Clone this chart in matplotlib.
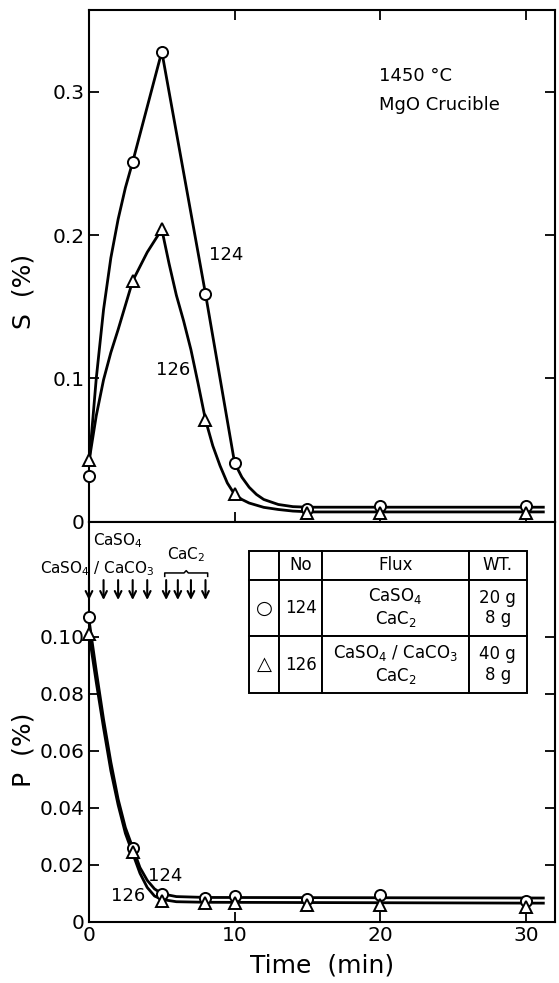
#!/usr/bin/env python3

import numpy as np
from matplotlib import pyplot as plt

plt.rcParams['font.family'] = ['DejaVu Sans']
plt.rcParams['mathtext.fontset'] = 'dejavusans'

# measured points, S (%)
t_pts = [0, 3, 5, 8, 10, 15, 20, 30]
s_124 = [0.032, 0.251, 0.328, 0.159, 0.041, 0.009, 0.011, 0.011]
s_126 = [0.043, 0.168, 0.204, 0.071, 0.019, 0.006, 0.006, 0.006]

# measured points, P (%)
p_124 = [0.107, 0.026, 0.0097, 0.0083, 0.0089, 0.0080, 0.0095, 0.0071]
p_126 = [0.101, 0.0243, 0.0071, 0.0065, 0.0065, 0.0060, 0.0060, 0.0053]

# hand drawn curves
cs124_t = [0, 0.5, 1, 1.5, 2, 2.5, 3, 5, 8, 10, 10.5, 11, 11.5, 12, 13, 14, 15, 31.2]
cs124_v = [0.040, 0.100, 0.148, 0.184, 0.211, 0.233, 0.251, 0.328, 0.159, 0.041,
           0.031, 0.024, 0.019, 0.0155, 0.012, 0.0105, 0.0101, 0.0101]
cs126_t = [0, 0.5, 1, 1.5, 2, 2.5, 3, 4, 5, 5.5, 6, 6.5, 7, 7.5, 8, 8.5, 9, 9.5, 10,
           10.5, 11, 12, 13, 14, 15.2, 31.2]
cs126_v = [0.042, 0.074, 0.099, 0.118, 0.134, 0.151, 0.168, 0.188, 0.204, 0.180, 0.158,
           0.140, 0.120, 0.096, 0.071, 0.053, 0.039, 0.027, 0.019, 0.0155, 0.013, 0.010,
           0.0085, 0.0074, 0.0068, 0.0068]

cp124_t = [0, 0.5, 1, 1.5, 2, 2.5, 3, 3.5, 4, 4.5, 5, 6, 8, 31.2]
cp124_v = [0.106, 0.088, 0.071, 0.056, 0.043, 0.033, 0.026, 0.019, 0.0145, 0.0115, 0.0098, 0.0088, 0.0085, 0.0083]
cp126_t = [0, 0.5, 1, 1.5, 2, 2.5, 3, 3.5, 4, 4.5, 5, 6, 8, 31.2]
cp126_v = [0.101, 0.084, 0.068, 0.053, 0.041, 0.031, 0.024, 0.017, 0.012, 0.009, 0.0078, 0.0070, 0.0068, 0.0065]

# flux additions
sulf_times = [0, 1, 2, 3, 4]
carb_times = [5.3, 6.1, 7.0, 8.0]

table_rows = [['', 'No', 'Flux', 'WT.'],
              ['\u25cb', '124', 'CaSO$_4$\nCaC$_2$', '20 g\n8 g'],
              ['\u25b3', '126', 'CaSO$_4$ / CaCO$_3$\nCaC$_2$', '40 g\n8 g']]


def style(ax):
    for sp in ax.spines.values():
        sp.set_linewidth(1.5)
    ax.tick_params(direction='in', length=7, width=1.3, labelsize=14.5,
                   left=True, right=True, top=False, bottom=True, pad=3)
    ax.set_xlim(0, 32.0)


def main():
    fig = plt.figure(figsize=(5.59, 9.83), dpi=100)
    ax1 = fig.add_axes([0.1592, 0.4693, 0.8336, 0.5205])
    ax2 = fig.add_axes([0.1592, 0.0624, 0.8336, 0.4069])

    mk = dict(ms=8, mfc='white', mec='black', mew=1.4, ls='none', zorder=5, clip_on=False)

    # upper panel
    style(ax1)
    ax1.plot(cs124_t, cs124_v, color='black', lw=2.0)
    ax1.plot(cs126_t, cs126_v, color='black', lw=2.0)
    ax1.plot(t_pts, s_124, marker='o', **mk)
    ax1.plot(t_pts, s_126, marker='^', **mk)
    ax1.set_ylim(0, 0.357)
    ax1.set_yticks([0, 0.1, 0.2, 0.3])
    ax1.set_yticklabels(['0', '0.1', '0.2', '0.3'])
    ax1.set_xticks([10, 20, 30])
    ax1.tick_params(axis='x', top=True, labelbottom=False)
    ax1.set_ylabel('S  (%)', fontsize=18)
    ax1.yaxis.set_label_coords(-0.115, 0.45)
    ax1.text(9.4, 0.186, '124', fontsize=13, ha='center', va='center')
    ax1.text(5.8, 0.106, '126', fontsize=13, ha='center', va='center')
    ax1.text(19.9, 0.311, '1450 \u00b0C', fontsize=13, ha='left', va='center')
    ax1.text(19.9, 0.291, 'MgO Crucible', fontsize=13, ha='left', va='center')

    # lower panel
    style(ax2)
    ax2.plot(cp124_t, cp124_v, color='black', lw=2.0)
    ax2.plot(cp126_t, cp126_v, color='black', lw=2.0)
    ax2.plot(t_pts, p_124, marker='o', **mk)
    ax2.plot(t_pts, p_126, marker='^', **mk)
    ax2.set_ylim(0, 0.1404)
    ax2.set_yticks([0, 0.02, 0.04, 0.06, 0.08, 0.10])
    ax2.set_yticklabels(['0', '0.02', '0.04', '0.06', '0.08', '0.10'])
    ax2.set_xticks([0, 10, 20, 30])
    ax2.set_xticklabels(['0', '10', '20', '30'])
    ax2.set_ylabel('P  (%)', fontsize=18)
    ax2.yaxis.set_label_coords(-0.115, 0.43)
    ax2.set_xlabel('Time  (min)', fontsize=18, labelpad=6)
    ax2.text(5.2, 0.0160, '124', fontsize=13, ha='center', va='center')
    ax2.text(2.7, 0.0090, '126', fontsize=13, ha='center', va='center')

    # flux additions
    for t in sulf_times + carb_times:
        ax2.annotate('', xy=(t, 0.1129), xytext=(t, 0.1199),
                     arrowprops=dict(arrowstyle='->', lw=1.5, mutation_scale=12,
                                     shrinkA=0, shrinkB=0))
    ax2.text(2.0, 0.1337, 'CaSO$_4$', fontsize=11, ha='center', va='center')
    ax2.text(0.55, 0.1240, 'CaSO$_4$ / CaCO$_3$', fontsize=11, ha='center', va='center')
    b0, b1 = carb_times[0] - 0.1, carb_times[-1] + 0.15
    bm = 0.5 * (b0 + b1)
    yb = 0.1224
    ax2.plot([b0, b0, bm - 0.15, bm, bm + 0.15, b1, b1],
             [yb - 0.0012, yb, yb, yb + 0.0008, yb, yb, yb - 0.0012],
             color='black', lw=1.1)
    ax2.text(bm, 0.1290, 'CaC$_2$', fontsize=11, ha='center', va='center')

    # legend table
    tab = ax2.table(cellText=table_rows, cellLoc='center',
                    colWidths=[0.1076, 0.1548, 0.530, 0.2078],
                    bbox=[0.344, 0.572, 0.595, 0.354])
    tab.auto_set_font_size(False)
    tab.set_fontsize(12)
    for (r, c), cell in tab.get_celld().items():
        cell.set_linewidth(1.4)
        cell.set_height(1 if r == 0 else 2)
        if c == 3:
            cell._loc = 'left' if r == 0 else 'right'
        if r > 0 and c == 0:
            cell.get_text().set_fontsize(14)

    fig.savefig('out.png', dpi=100)
    plt.clf()


if __name__ == '__main__':
    main()
